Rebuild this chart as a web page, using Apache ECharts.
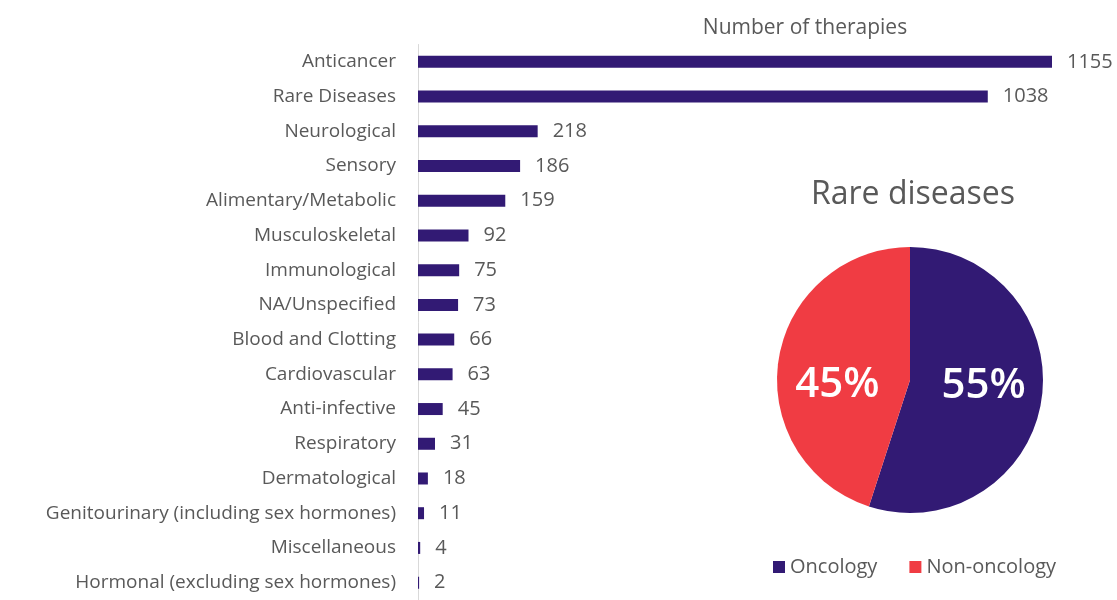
<!DOCTYPE html>
<html><head><meta charset="utf-8">
<script src="https://cdn.jsdelivr.net/npm/echarts@6/dist/echarts.min.js"></script>
<style>html,body{margin:0;padding:0;background:#fff}#c{width:1117px;height:600px}</style>
</head><body><div id="c"></div>
<script>
const categories = ["Anticancer","Rare Diseases","Neurological","Sensory","Alimentary/Metabolic","Musculoskeletal","Immunological","NA/Unspecified","Blood and Clotting","Cardiovascular","Anti-infective","Respiratory","Dermatological","Genitourinary (including sex hormones)","Miscellaneous","Hormonal (excluding sex hormones)"];
const therapies = [1155,1038,218,186,159,92,75,73,66,63,45,31,18,11,4,2];
const pieNames = ["Oncology","Non-oncology"];
const pieValues = [55,45];
const purple = "#321a74", red = "#f03c43", grey = "#595959";
const font = "Open Sans";
const chart = echarts.init(document.getElementById('c'));
chart.setOption({
  animation:false,
  textStyle:{fontFamily:font},
  title:[
    {text:"Number of therapies",left:800,top:13,textAlign:'center',textStyle:{fontFamily:font,fontSize:21,fontWeight:'normal',color:grey}},
    {text:"Rare diseases",left:908,top:174,textAlign:'center',textStyle:{fontFamily:font,fontSize:32,fontWeight:'normal',color:grey}}
  ],
  legend:{data:pieNames,left:768,top:552,itemWidth:12,itemHeight:12,itemGap:32,icon:'rect',
    textStyle:{fontFamily:font,fontSize:20,color:grey}},
  grid:{left:418,top:44.5,height:561,right:65,containLabel:false},
  xAxis:{type:'value',min:0,max:1155,show:false},
  yAxis:{type:'category',inverse:true,data:categories,
    axisLine:{show:true,lineStyle:{color:'#d9d9d9',width:1}},axisTick:{show:false},
    axisLabel:{margin:22,fontFamily:font,fontSize:19,color:grey}},
  series:[
    {type:'bar',data:therapies,barWidth:12,itemStyle:{color:purple},
     label:{show:true,position:'right',distance:15,fontFamily:font,fontSize:20,color:grey}},
    {type:'pie',center:[910,380],radius:133,startAngle:90,clockwise:true,
     data:pieNames.map((n,i)=>({name:n,value:pieValues[i]})),
     color:[purple,red],
     label:{show:true,position:'inside',formatter:'{c}%',fontFamily:font,fontSize:42,fontWeight:600,color:'#fff'},
     labelLayout:function(p){ return p.dataIndex===1 ? {dx:-4,dy:16} : {dx:5,dy:-5}; },
     labelLine:{show:false},itemStyle:{borderWidth:0}}
  ]
});
</script></body></html>
